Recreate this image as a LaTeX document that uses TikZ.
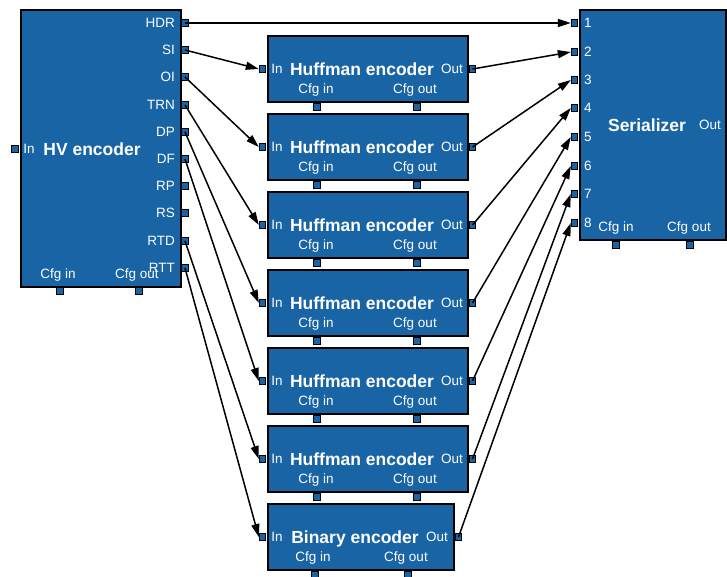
\documentclass[tikz,border=0pt]{standalone}
\usepackage{fontspec}
\setmainfont{Liberation Sans}
\usetikzlibrary{arrows.meta}
\definecolor{blockblue}{RGB}{25,100,165}

\begin{document}
\begin{tikzpicture}[x=1pt,y=-1pt,
  block/.style={draw=black, line width=2pt, fill=blockblue, inner sep=0pt, anchor=north west},
  port/.style={draw=black, line width=0.9pt, fill=blockblue, minimum size=6.5pt, inner sep=0pt},
  plabel/.style={text=white, font=\fontsize{13.5}{14}\selectfont, inner sep=0pt,
                 text height=9.7pt, text depth=0pt},
  title/.style={text=white, font=\bfseries\fontsize{17.5}{18}\selectfont, inner sep=0pt,
                text height=12.6pt, text depth=0pt},
  wire/.style={line width=1.5pt, -{Triangle[length=13pt,width=8pt]}}]
\useasboundingbox (0,0) rectangle (727,577);

% ---------- HV encoder ----------
\node[block, minimum width=160pt, minimum height=277pt] (hv) at (20,9) {};
\node[title] (hv-title) at (92,149) {HV encoder};
\node[port] (hv-in) at (15,149) {};
\node[plabel] (hv-inl) at (29,149) {In};
\foreach \lab/\y/\id in {HDR/23/hdr, SI/50/si, OI/77/oi, TRN/105/trn, DP/132/dp,
                         DF/159/df, RP/186/rp, RS/213/rs, RTD/241/rtd, RTT/268/rtt} {
  \node[port] (hv-\id) at (185,\y) {};
  \node[plabel, anchor=east] (hv-\id-l) at (175,\y) {\lab};
}
\node[plabel] (hv-cfgin-l) at (58,274) {Cfg in};
\node[plabel] (hv-cfgout-l) at (137,274) {Cfg out};
\node[port] (hv-cfgin) at (60,291) {};
\node[port] (hv-cfgout) at (139,291) {};

% ---------- Huffman encoders ----------
\foreach \i [evaluate=\i as \t using 35+78*\i] in {0,...,5} {
  \node[block, minimum width=200pt, minimum height=66pt] (huf\i) at (267,\t) {};
  \node[title] (huf\i-title) at (362,\t+34) {Huffman encoder};
  \node[port] (huf\i-in) at (262.5,\t+34) {};
  \node[plabel] (huf\i-inl) at (277,\t+34) {In};
  \node[port] (huf\i-out) at (472.5,\t+34) {};
  \node[plabel] (huf\i-outl) at (452,\t+34) {Out};
  \node[plabel] (huf\i-cfgin-l) at (316,\t+54) {Cfg in};
  \node[plabel] (huf\i-cfgout-l) at (415,\t+54) {Cfg out};
  \node[port] (huf\i-cfgin) at (317,\t+72) {};
  \node[port] (huf\i-cfgout) at (417,\t+72) {};
}

% ---------- Binary encoder ----------
\node[block, minimum width=186pt, minimum height=66pt] (bin) at (267,503) {};
\node[title] (bin-title) at (355,537) {Binary encoder};
\node[port] (bin-in) at (262.5,537) {};
\node[plabel] (bin-inl) at (277,537) {In};
\node[port] (bin-out) at (458.5,537) {};
\node[plabel] (bin-outl) at (437,537) {Out};
\node[plabel] (bin-cfgin-l) at (313,557) {Cfg in};
\node[plabel] (bin-cfgout-l) at (406,557) {Cfg out};
\node[port] (bin-cfgin) at (315,575) {};
\node[port] (bin-cfgout) at (408,575) {};

% ---------- Serializer ----------
\node[block, minimum width=146pt, minimum height=230pt] (ser) at (579,9) {};
\node[title] (ser-title) at (647,125) {Serializer};
\node[plabel] (ser-outl) at (710,125) {Out};
\foreach \n/\y in {1/23, 2/52, 3/80, 4/108, 5/137, 6/166, 7/194, 8/223} {
  \node[port] (ser-\n) at (574.5,\y) {};
  \node[plabel, anchor=west] (ser-\n-l) at (584,\y) {\n};
}
\node[plabel] (ser-cfgin-l) at (616,227) {Cfg in};
\node[plabel] (ser-cfgout-l) at (689,227) {Cfg out};
\node[port] (ser-cfgin) at (616,245) {};
\node[port] (ser-cfgout) at (690,245) {};

% ---------- Connections ----------
\draw[wire] (hv-hdr.center) -- (ser-1.west);
\draw[wire] (hv-si.center)  -- (huf0-in.west);
\draw[wire] (hv-oi.center)  -- (huf1-in.west);
\draw[wire] (hv-trn.center) -- (huf2-in.west);
\draw[wire] (hv-dp.center)  -- (huf3-in.west);
\draw[wire] (hv-df.center)  -- (huf4-in.west);
\draw[wire] (hv-rtd.center) -- (huf5-in.west);
\draw[wire] (hv-rtt.center) -- (bin-in.west);
\foreach \i [evaluate=\i as \n using int(\i+2)] in {0,...,5} {
  \draw[wire] (huf\i-out.center) -- (ser-\n.west);
}
\draw[wire] (bin-out.center) -- (ser-8.west);
\end{tikzpicture}
\end{document}
